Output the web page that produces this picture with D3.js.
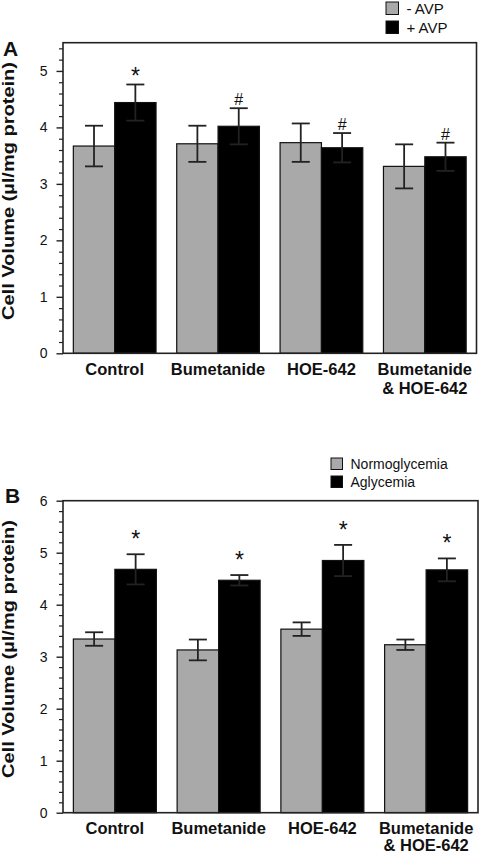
<!DOCTYPE html>
<html>
<head>
<meta charset="utf-8">
<script src="https://cdn.jsdelivr.net/npm/d3@7"></script>
<style>
  html, body { margin: 0; padding: 0; background: #fff; }
  svg { display: block; }
  text { font-family: "Liberation Sans", Arial, sans-serif; fill: #111; }
</style>
</head>
<body>
<svg id="chart" width="480" height="854"></svg>
<script>
// ---------- data ----------
const categories = ["Control", "Bumetanide", "HOE-642", "Bumetanide & HOE-642"];
const categoryLines = [["Control"], ["Bumetanide"], ["HOE-642"], ["Bumetanide", "& HOE-642"]];

// Panel A
const seriesA = ["- AVP", "+ AVP"];
const minusAVP    = [3.67, 3.71, 3.73, 3.31];
const minusAVPErr = [0.36, 0.32, 0.34, 0.39];
const plusAVP     = [4.44, 4.02, 3.64, 3.48];
const plusAVPErr  = [0.32, 0.32, 0.26, 0.25];
const marksA      = ["*", "#", "#", "#"];
const ticksA      = [0, 1, 2, 3, 4, 5];

// Panel B
const seriesB = ["Normoglycemia", "Aglycemia"];
const normo     = [3.34, 3.13, 3.53, 3.23];
const normoErr  = [0.13, 0.20, 0.13, 0.10];
const agly      = [4.68, 4.47, 4.85, 4.67];
const aglyErr   = [0.29, 0.10, 0.30, 0.22];
const marksB    = ["*", "*", "*", "*"];
const ticksB    = [0, 1, 2, 3, 4, 5, 6];

const yTitle = "Cell Volume (\u00b5l/mg protein)";
const colors = ["#a9a9a9", "#000000"];

const svg = d3.select("#chart");

function panel(cfg) {
  const g = svg.append("g");
  const {left, right, top, bottom} = cfg;

  const x = d3.scaleBand().domain(categories).range([left, right])
    .paddingInner(0.2).paddingOuter(0.1);
  const xs = d3.scaleBand().domain([0, 1]).range([0, x.bandwidth()]);
  const y = d3.scaleLinear().domain([0, cfg.ymax]).range([bottom, top]);

  // minor ticks
  const minor = d3.range(0, cfg.ymax + 0.001, 0.2).map(v => +v.toFixed(2))
    .filter(v => Math.abs(v - Math.round(v)) > 1e-6);
  g.append("g").attr("transform", `translate(${left},0)`)
    .call(d3.axisLeft(y).tickValues(minor).tickSize(4).tickFormat(""))
    .call(s => s.select(".domain").remove())
    .call(s => s.selectAll("line").attr("stroke", "#222").attr("stroke-width", 1.2));

  // major ticks
  g.append("g").attr("transform", `translate(${left},0)`)
    .call(d3.axisLeft(y).tickValues(cfg.ticks).tickSize(6.5).tickPadding(9).tickFormat(d3.format("d")))
    .call(s => s.select(".domain").remove())
    .call(s => s.selectAll("line").attr("stroke", "#222").attr("stroke-width", 1.4))
    .call(s => s.selectAll("text").attr("font-size", 14).attr("fill", "#222")
      .attr("font-family", '"Liberation Sans", Arial, sans-serif'));

  // bars
  const data = [];
  categories.forEach((c, i) => {
    cfg.values.forEach((vals, s) => {
      data.push({c, i, s, v: vals[i], e: cfg.errs[s][i]});
    });
  });

  g.selectAll("rect.bar").data(data).enter().append("rect")
    .attr("class", "bar")
    .attr("x", d => x(d.c) + xs(d.s))
    .attr("width", xs.bandwidth())
    .attr("y", d => y(d.v))
    .attr("height", d => y(0) - y(d.v))
    .attr("fill", d => colors[d.s])
    .attr("stroke", "#111")
    .attr("stroke-width", 1.2);

  // error bars
  const cap = 9;
  const cx = d => x(d.c) + xs(d.s) + xs.bandwidth() / 2;
  const eb = g.selectAll("g.err").data(data).enter().append("g").attr("class", "err")
    .attr("stroke", "#222").attr("stroke-width", 1.8);
  eb.append("line")
    .attr("x1", cx).attr("x2", cx)
    .attr("y1", d => y(d.v + d.e)).attr("y2", d => y(d.v - d.e));
  eb.append("line")
    .attr("x1", d => cx(d) - cap).attr("x2", d => cx(d) + cap)
    .attr("y1", d => y(d.v + d.e)).attr("y2", d => y(d.v + d.e));
  eb.append("line")
    .attr("x1", d => cx(d) - cap).attr("x2", d => cx(d) + cap)
    .attr("y1", d => y(d.v - d.e)).attr("y2", d => y(d.v - d.e));

  // significance marks above second series
  const hi = data.filter(d => d.s === 1);
  g.selectAll("text.mark").data(hi).enter().append("text")
    .attr("class", "mark")
    .attr("x", cx)
    .attr("y", d => y(d.v + d.e) - (cfg.marks[d.i] === "#" ? 3 : cfg.starOffset))
    .attr("text-anchor", "middle")
    .attr("font-size", d => cfg.marks[d.i] === "#" ? 16 : 23)
    .attr("fill", "#222")
    .text(d => cfg.marks[d.i]);

  // frame
  g.append("rect").attr("x", left).attr("y", top)
    .attr("width", right - left).attr("height", bottom - top)
    .attr("fill", "none").attr("stroke", "#222").attr("stroke-width", 1.6);

  // x labels
  const xl = g.selectAll("text.xl").data(categories).enter().append("text")
    .attr("class", "xl")
    .attr("text-anchor", "middle")
    .attr("font-weight", "bold")
    .attr("font-size", 16.5)
    .attr("x", d => x(d) + x.bandwidth() / 2)
    .attr("y", bottom + cfg.xlabOffset);
  xl.each(function(d, i) {
    const t = d3.select(this);
    categoryLines[i].forEach((ln, k) => {
      t.append("tspan").attr("x", x(d) + x.bandwidth() / 2)
        .attr("dy", k === 0 ? 0 : cfg.lineGap).text(ln);
    });
  });

  // y title
  g.append("text")
    .attr("transform", `translate(13.5,${cfg.titleY}) rotate(-90)`)
    .attr("text-anchor", "middle")
    .attr("font-weight", "bold")
    .attr("font-size", 17)
    .attr("textLength", 258)
    .attr("lengthAdjust", "spacingAndGlyphs")
    .text(yTitle);

  // panel letter
  g.append("text").attr("x", cfg.letterX).attr("y", cfg.letterY)
    .attr("font-weight", "bold").attr("font-size", 21).text(cfg.letter);

  // legend
  const lg = g.append("g");
  cfg.series.forEach((name, s) => {
    lg.append("rect")
      .attr("x", cfg.legX).attr("y", cfg.legY + s * cfg.legStep)
      .attr("width", cfg.legSize).attr("height", cfg.legSize)
      .attr("fill", colors[s]).attr("stroke", "#111").attr("stroke-width", 1);
    lg.append("text")
      .attr("x", cfg.legX + cfg.legSize + cfg.legGap)
      .attr("y", cfg.legY + s * cfg.legStep + cfg.legSize - 0.5)
      .attr("font-size", cfg.legFont)
      .attr("fill", "#111")
      .text(name);
  });
}

panel({
  left: 63, right: 476.5, top: 42.7, bottom: 353.3, ymax: 5.5, ticks: ticksA,
  values: [minusAVP, plusAVP], errs: [minusAVPErr, plusAVPErr], marks: marksA,
  starOffset: 0, letter: "A", letterX: 3, letterY: 55.5, titleY: 191,
  xlabOffset: 22, lineGap: 19,
  series: seriesA, legX: 386, legY: 2, legStep: 19, legSize: 12.5, legGap: 8, legFont: 15
});

panel({
  left: 63, right: 478, top: 500.7, bottom: 812.7, ymax: 6, ticks: ticksB,
  values: [normo, agly], errs: [normoErr, aglyErr], marks: marksB,
  starOffset: 7, letter: "B", letterX: 5, letterY: 502.5, titleY: 649,
  xlabOffset: 21.5, lineGap: 16.5,
  series: seriesB, legX: 331, legY: 458, legStep: 18, legSize: 11.5, legGap: 8, legFont: 14
});
</script>
</body>
</html>
